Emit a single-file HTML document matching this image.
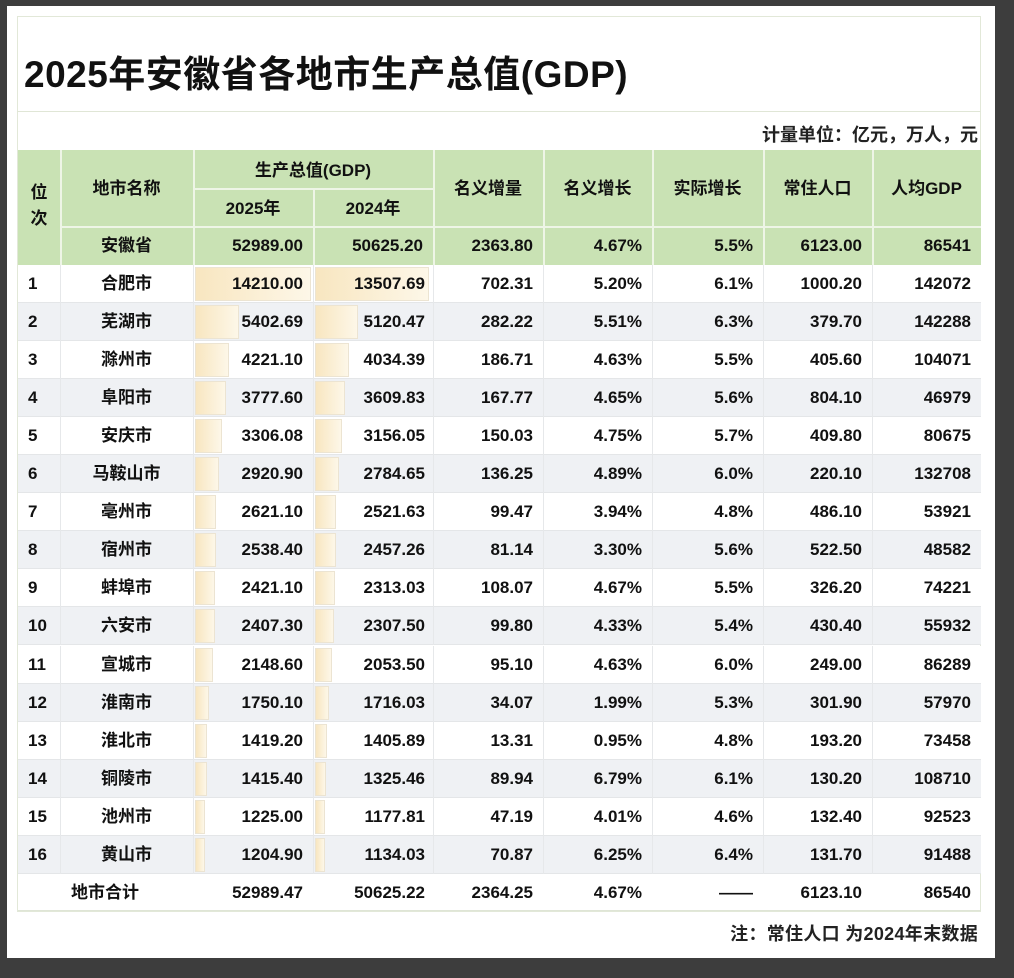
<!DOCTYPE html>
<html><head><meta charset="utf-8"><style>
body{margin:0;width:1014px;height:978px;background:#3d3d3d;position:relative;overflow:hidden;font-family:"Liberation Sans","Noto Sans CJK SC",sans-serif;}
#card{position:absolute;left:7px;top:6px;width:988px;height:952px;background:#fff;}
.a{position:absolute;box-sizing:border-box;}
.t{position:absolute;font-size:17px;color:#111;white-space:nowrap;line-height:38px;font-weight:bold;}
</style></head><body>
<div id="card"></div>
<div class="a" style="left:17px;top:16px;width:964px;height:896px;border:1px solid #e2e8d8"></div>
<div class="a" style="left:24px;top:44px;font-size:37px;font-weight:bold;color:#111;white-space:nowrap;letter-spacing:0.5px">2025年安徽省各地市生产总值(GDP)</div>
<div class="a" style="left:17px;top:111px;width:964px;border-top:1px solid #e0e6d6"></div>
<div class="a" style="right:36px;top:121px;font-size:18px;font-weight:bold;color:#222;white-space:nowrap">计量单位：亿元，万人，元</div>
<div id="tb"></div>
<div class="a" style="right:36px;top:920px;font-size:18px;font-weight:bold;color:#222;white-space:nowrap;letter-spacing:0.3px">注：常住人口 为2024年末数据</div>
<script>
const X=[18,60,193,313,433,543,652,763,872,981];
const tb=document.getElementById('tb');
function box(l,t,w,h,bg,extra){const d=document.createElement('div');d.className='a';d.style.cssText=`left:${l}px;top:${t}px;width:${w}px;height:${h}px;background:${bg};${extra||''}`;tb.appendChild(d);return d;}
function txt(s,l,r,t,h,align){const d=document.createElement('div');d.className='t';d.textContent=s;d.style.cssText+=`left:${l}px;width:${r-l}px;top:${t}px;line-height:${h}px;text-align:${align};`;tb.appendChild(d);}
const G='#c9e2b4';
box(18,150,963,115,G);
const L='#eef5e6';
for(let i=1;i<9;i++){ if(i==3) box(X[i],190,2,75,L); else box(X[i],150,2,115,L);}
box(193,188,240,2,L);box(60,226,921,2,L);
txt('位',18,60,180,26,'center');txt('次',18,60,206,26,'center');
txt('地市名称',60,193,170,38,'center');
txt('生产总值(GDP)',193,433,152,38,'center');
txt('2025年',193,313,190,38,'center');txt('2024年',313,433,190,38,'center');
['名义增量','名义增长','实际增长','常住人口','人均GDP'].forEach((s,i)=>txt(s,X[i+4],X[i+5],170,38,'center'));
const ah=['52989.00','50625.20','2363.80','4.67%','5.5%','6123.00','86541'];
txt('安徽省',60,193,227,38,'center');
ah.forEach((s,i)=>txt(s,X[i+2],X[i+3]-10,227,38,'right'));
const D=[
['合肥市',14210.00,13507.69,'702.31','5.20%','6.1%','1000.20','142072'],
['芜湖市',5402.69,5120.47,'282.22','5.51%','6.3%','379.70','142288'],
['滁州市',4221.10,4034.39,'186.71','4.63%','5.5%','405.60','104071'],
['阜阳市',3777.60,3609.83,'167.77','4.65%','5.6%','804.10','46979'],
['安庆市',3306.08,3156.05,'150.03','4.75%','5.7%','409.80','80675'],
['马鞍山市',2920.90,2784.65,'136.25','4.89%','6.0%','220.10','132708'],
['亳州市',2621.10,2521.63,'99.47','3.94%','4.8%','486.10','53921'],
['宿州市',2538.40,2457.26,'81.14','3.30%','5.6%','522.50','48582'],
['蚌埠市',2421.10,2313.03,'108.07','4.67%','5.5%','326.20','74221'],
['六安市',2407.30,2307.50,'99.80','4.33%','5.4%','430.40','55932'],
['宣城市',2148.60,2053.50,'95.10','4.63%','6.0%','249.00','86289'],
['淮南市',1750.10,1716.03,'34.07','1.99%','5.3%','301.90','57970'],
['淮北市',1419.20,1405.89,'13.31','0.95%','4.8%','193.20','73458'],
['铜陵市',1415.40,1325.46,'89.94','6.79%','6.1%','130.20','108710'],
['池州市',1225.00,1177.81,'47.19','4.01%','4.6%','132.40','92523'],
['黄山市',1204.90,1134.03,'70.87','6.25%','6.4%','131.70','91488']];
D.forEach((r,k)=>{const t=265+k*38.05;
 box(18,t,963,38,k%2?'#eff1f4':'#fff');
 box(18,t+37,963,1,'#e4e6e8');
 [60,193,313,433,543,652,763,872].forEach(x=>box(x,t,1,38,'#e6e8ea'));
 const grad='linear-gradient(90deg,#f8e6c0,#fdf7e8)';
 box(195,t+2,Math.max(6,r[1]/14210*116),34,grad,'border:1px solid #ece4d2');
 box(315,t+2,Math.max(6,r[2]/13507.69*114),34,grad,'border:1px solid #ece4d2');
 txt(String(k+1),28,60,t,38,'left');
 txt(r[0],60,193,t,38,'center');
 txt(r[1].toFixed(2),193,303,t,38,'right');
 txt(r[2].toFixed(2),313,425,t,38,'right');
 r.slice(3).forEach((s,i)=>txt(s,X[i+4],X[i+5]-10,t,38,'right'));
});
const tt=874;
box(18,tt+36,963,1,'#dfe5d6');
['52989.47','50625.22','2364.25','4.67%','——','6123.10','86540'].forEach((s,i)=>txt(s,X[i+2],X[i+3]-(i==1?8:10),tt,38,'right'));
txt('地市合计',60,150,tt,38,'center');
</script>
</body></html>
